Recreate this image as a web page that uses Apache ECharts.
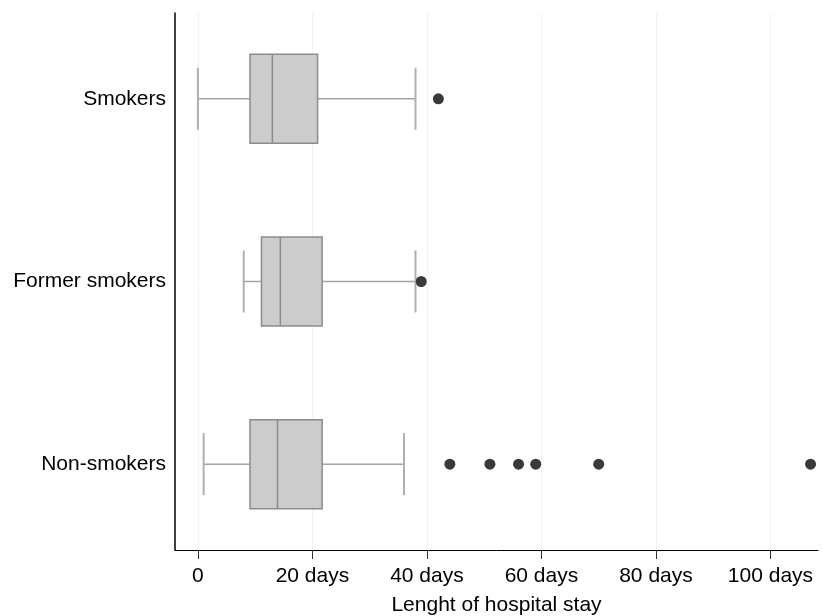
<!DOCTYPE html>
<html>
<head>
<meta charset="utf-8">
<script src="https://cdn.jsdelivr.net/npm/echarts@6/dist/echarts.min.js"></script>
<style>
  html, body { margin: 0; padding: 0; background: #fff; }
  #chart { width: 822px; height: 616px; }
</style>
</head>
<body>
<div id="chart"></div>
<script>
// 分组（从上到下）
const groups = ['Smokers', 'Former smokers', 'Non-smokers']

// 箱线图数据: 最小, Q1, 中位数, Q3, 最大
const whiskerLow = [0, 8, 1]
const quartile1 = [9.1, 11.1, 9.1]
const medians = [13, 14.4, 13.9]
const quartile3 = [20.9, 21.7, 21.7]
const whiskerHigh = [38, 38, 36]

// 离群点 [天数, 分组序号]
const outlierDays = [42, 39, 44, 51, 56, 59, 70, 107]
const outlierGroup = [0, 1, 2, 2, 2, 2, 2, 2]

// x轴刻度
const xTicks = [0, 20, 40, 60, 80, 100]

const fontFamily = '"Liberation Sans", Arial, sans-serif'

let boxData = []
for (let i = 0; i < groups.length; i++)
    boxData.push([i, whiskerLow[i], quartile1[i], medians[i], quartile3[i], whiskerHigh[i]])

let outlierData = []
for (let i = 0; i < outlierDays.length; i++)
    outlierData.push([outlierDays[i], outlierGroup[i]])

function renderBox(params, api) {
    let g = api.value(0)
    let pLow = api.coord([api.value(1), g])
    let pQ1 = api.coord([api.value(2), g])
    let pMed = api.coord([api.value(3), g])
    let pQ3 = api.coord([api.value(4), g])
    let pHigh = api.coord([api.value(5), g])
    let cy = pMed[1]
    let boxHalf = 44.5
    let capHalf = 31
    let lineStyle = { stroke: '#a3a3a3', lineWidth: 1.5 }
    let capStyle = { stroke: '#b0b0b0', lineWidth: 2 }
    let edge = '#8c8c8c'
    return {
        type: 'group',
        children: [
            { type: 'line', shape: { x1: pLow[0], y1: cy, x2: pQ1[0], y2: cy }, style: lineStyle },
            { type: 'line', shape: { x1: pQ3[0], y1: cy, x2: pHigh[0], y2: cy }, style: lineStyle },
            { type: 'line', shape: { x1: pLow[0], y1: cy - capHalf, x2: pLow[0], y2: cy + capHalf }, style: capStyle },
            { type: 'line', shape: { x1: pHigh[0], y1: cy - capHalf, x2: pHigh[0], y2: cy + capHalf }, style: capStyle },
            {
                type: 'rect',
                shape: { x: pQ1[0], y: cy - boxHalf, width: pQ3[0] - pQ1[0], height: boxHalf * 2 },
                style: { fill: '#cccccc', stroke: edge, lineWidth: 1.5 }
            },
            { type: 'line', shape: { x1: pMed[0], y1: cy - boxHalf, x2: pMed[0], y2: cy + boxHalf }, style: { stroke: edge, lineWidth: 1.5 } }
        ]
    }
}

let option = {
    animation: false,
    backgroundColor: '#fff',
    grid: {
        left: 175,
        right: 4,
        top: 13,
        bottom: 66,
        outerBoundsMode: 'none'
    },
    xAxis: {
        type: 'value',
        min: -4,
        max: 108.3,
        name: 'Lenght of hospital stay',
        nameLocation: 'middle',
        nameGap: 45,
        nameTextStyle: { fontSize: 21, color: '#000', fontFamily: fontFamily },
        axisLine: { show: true, onZero: false, lineStyle: { color: '#000', width: 1 } },
        axisTick: { show: true, length: 9, lineStyle: { color: '#333' }, customValues: xTicks },
        axisLabel: {
            customValues: xTicks,
            margin: 16,
            fontSize: 21,
            color: '#000',
            fontFamily: fontFamily,
            formatter: v => v === 0 ? '0' : v + ' days'
        },
        splitLine: { show: true, lineStyle: { color: '#eff3f3', width: 1 } }
    },
    yAxis: {
        type: 'value',
        inverse: true,
        min: -0.47,
        max: 2.47,
        axisLine: { show: true, onZero: false, lineStyle: { color: '#000', width: 1.5 } },
        axisTick: { show: false },
        splitLine: { show: false },
        axisLabel: {
            customValues: [0, 1, 2],
            margin: 9,
            fontSize: 21,
            color: '#000',
            fontFamily: fontFamily,
            formatter: v => groups[v]
        }
    },
    series: [
        {
            type: 'custom',
            renderItem: renderBox,
            encode: { x: [1, 2, 3, 4, 5], y: 0 },
            data: boxData,
            z: 3
        },
        {
            type: 'scatter',
            symbol: 'circle',
            symbolSize: 11,
            itemStyle: { color: '#3a3a3a', opacity: 1 },
            data: outlierData,
            z: 4
        }
    ]
}

let chartDom = echarts.init(document.querySelector('#chart'))
chartDom.setOption(option)
</script>
</body>
</html>
